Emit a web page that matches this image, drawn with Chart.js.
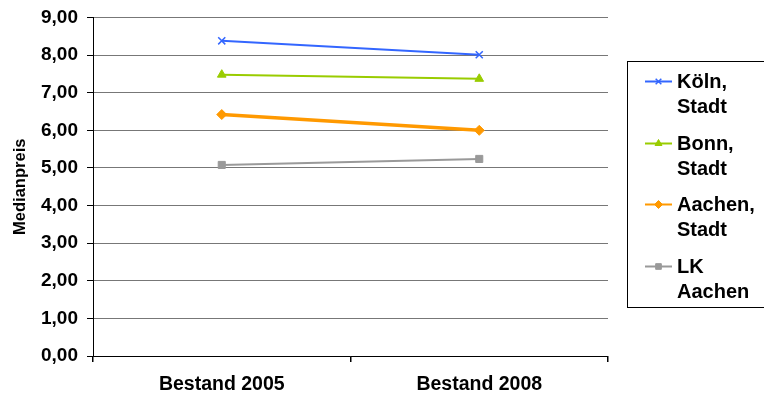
<!DOCTYPE html>
<html>
<head>
<meta charset="utf-8">
<script src="https://cdn.jsdelivr.net/npm/chart.js@4/dist/chart.umd.min.js"></script>
<style>
  html, body { margin: 0; padding: 0; background: #fff; }
  #wrap { width: 764px; height: 399px; }
</style>
</head>
<body>
<div id="wrap"><canvas id="c" width="764" height="399"></canvas></div>
<script>
// Median prices per region
const categories = ['Bestand 2005', 'Bestand 2008'];
const koeln = [8.38, 8.01];
const bonn = [7.48, 7.37];
const aachenStadt = [6.42, 6.00];
const lkAachen = [5.08, 5.24];

const seriesNames = [['Köln,', 'Stadt'], ['Bonn,', 'Stadt'], ['Aachen,', 'Stadt'], ['LK', 'Aachen']];
const yTicks = [0, 1, 2, 3, 4, 5, 6, 7, 8, 9];
const yTitle = 'Medianpreis';

const FONT = '"Liberation Sans", Arial, sans-serif';

function fmt(v) { return v.toFixed(2).replace('.', ','); }

// Legend drawn in a box to the right of the plot, with two-line labels
const boxLegend = {
  id: 'boxLegend',
  afterDraw(chart) {
    const ctx = chart.ctx;
    ctx.save();
    ctx.strokeStyle = '#000';
    ctx.lineWidth = 1;
    ctx.strokeRect(627.5, 61.5, 150, 246);
    const rows = [81, 143, 204, 266];
    chart.data.datasets.forEach((ds, i) => {
      const y = rows[i];
      ctx.strokeStyle = ds.borderColor;
      ctx.lineWidth = Math.min(ds.borderWidth, 2);
      ctx.beginPath();
      ctx.moveTo(645, y + 0.5);
      ctx.lineTo(672, y + 0.5);
      ctx.stroke();
      const opts = {
        pointStyle: ds.pointStyle, radius: ds.pointRadius - 1, rotation: 0,
        borderWidth: ds.pointBorderWidth || 1
      };
      ctx.fillStyle = ds.pointBackgroundColor;
      ctx.strokeStyle = ds.pointBorderColor;
      ctx.lineWidth = opts.borderWidth;
      Chart.helpers.drawPoint(ctx, opts, 658.5, y + 0.5);
      ctx.fillStyle = '#000';
      ctx.font = 'bold 20px ' + FONT;
      ctx.textBaseline = 'middle';
      ctx.textAlign = 'left';
      ctx.fillText(seriesNames[i][0], 677, y + 1);
      ctx.fillText(seriesNames[i][1], 677, y + 26);
    });
    ctx.restore();
  }
};

new Chart(document.getElementById('c'), {
  type: 'line',
  data: {
    labels: categories,
    datasets: [
      { label: 'Köln, Stadt', data: koeln, borderColor: '#3366FF', borderWidth: 2,
        pointStyle: 'crossRot', pointRadius: 5, pointBorderColor: '#3366FF',
        pointBackgroundColor: '#3366FF', pointBorderWidth: 1.5 },
      { label: 'Bonn, Stadt', data: bonn, borderColor: '#99CC00', borderWidth: 2,
        pointStyle: 'triangle', pointRadius: 5, pointBorderColor: '#99CC00',
        pointBackgroundColor: '#99CC00', pointBorderWidth: 1 },
      { label: 'Aachen, Stadt', data: aachenStadt, borderColor: '#FF9900', borderWidth: 3.5,
        pointStyle: 'rectRot', pointRadius: 5, pointBorderColor: '#FF9900',
        pointBackgroundColor: '#FF9900', pointBorderWidth: 1 },
      { label: 'LK Aachen', data: lkAachen, borderColor: '#999999', borderWidth: 2,
        pointStyle: 'rect', pointRadius: 5, pointBorderColor: '#999999',
        pointBackgroundColor: '#999999', pointBorderWidth: 1 }
    ]
  },
  options: {
    responsive: false,
    animation: false,
    events: [],
    layout: { padding: { left: 0, right: 156, top: 17.5, bottom: 0 } },
    plugins: { legend: { display: false }, tooltip: { enabled: false } },
    scales: {
      x: {
        offset: true,
        grid: {
          offset: true,
          tickLength: 6,
          tickColor: '#000',
          color: (c) => (c.index === categories.length ? '#999' : 'rgba(0,0,0,0)'),
          lineWidth: 1.5
        },
        border: { color: '#000', width: 1 },
        ticks: {
          color: '#000', padding: 11,
          font: { family: FONT, size: 19.5, weight: 'bold' }
        },
        afterFit(scale) { scale.height = 43; }
      },
      y: {
        min: 0, max: 9,
        afterBuildTicks(scale) { scale.ticks = yTicks.map(v => ({ value: v })); },
        grid: { color: '#777', tickColor: '#000', tickLength: 6, lineWidth: 1 },
        border: { color: '#000', width: 1 },
        ticks: {
          color: '#000', padding: 9,
          font: { family: FONT, size: 19, weight: 'bold' },
          callback: (v) => fmt(v)
        },
        title: {
          display: true, text: yTitle, color: '#000',
          font: { family: FONT, size: 16.5, weight: 'bold' },
          padding: { top: 11, bottom: 0 }
        },
        afterFit(scale) {
          scale.width = 93;
          scale.paddingTop = 0;
          scale.paddingBottom = 0;
        }
      }
    }
  },
  plugins: [boxLegend]
});
</script>
</body>
</html>
